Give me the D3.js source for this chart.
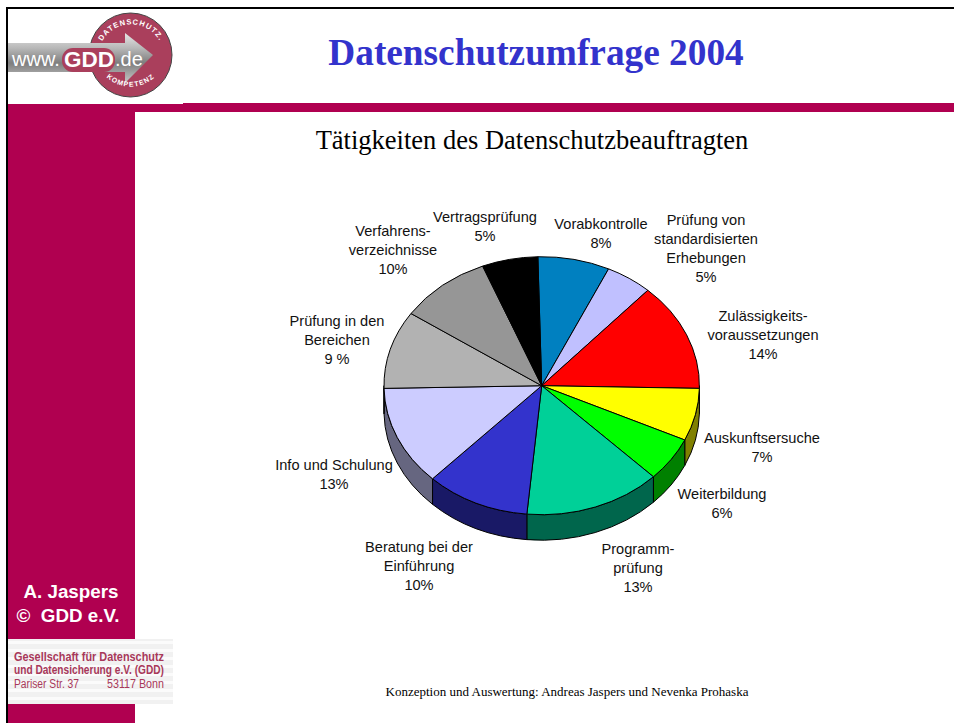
<!DOCTYPE html>
<html><head><meta charset="utf-8">
<script src="https://cdn.jsdelivr.net/npm/d3@7/dist/d3.min.js"></script>
<style>html,body{margin:0;padding:0;background:#fff}svg{display:block}</style>
</head><body><svg id="c" width="954" height="723"></svg>
<script>
const categories=["Vorabkontrolle","Prüfung von standardisierten Erhebungen","Zulässigkeits-voraussetzungen","Auskunftsersuche","Weiterbildung","Programm-prüfung","Beratung bei der Einführung","Info und Schulung","Prüfung in den Bereichen","Verfahrens-verzeichnisse","Vertragsprüfung"];
const shares=[7.36,4.78,13.58,6.58,5.56,14.03,10.67,12.5,9.78,9.44,5.72];
const labelLines=[["Vorabkontrolle","8%"],["Prüfung von","standardisierten","Erhebungen","5%"],["Zulässigkeits-","voraussetzungen","14%"],["Auskunftsersuche","7%"],["Weiterbildung","6%"],["Programm-","prüfung","13%"],["Beratung bei der","Einführung","10%"],["Info und Schulung","13%"],["Prüfung in den","Bereichen","9 %"],["Verfahrens-","verzeichnisse","10%"],["Vertragsprüfung","5%"]];
const labelX=[601,706,763,762,722,638,419,334,337,393,485];
const labelY=[229,225,321,443,499,554,552,470,326,236,222];
const topColors=["#0080c0","#c0c0ff","#ff0000","#ffff00","#00ff00","#00d098","#3333cc","#ccccff","#b2b2b2","#969696","#000000"];
const sideColors=["#004060","#606080","#800000","#808000","#008000","#00664c","#191966","#666680","#595959","#4b4b4b","#000000"];

const svg=d3.select("#c");
const cx=541.7,cy=385.7,rx=157.7,ry=129,depth=25.5;
const maroon="#b00050";
const rect=(x,y,w,h,f)=>svg.append("rect").attr("x",x).attr("y",y).attr("width",w).attr("height",h).attr("fill",f);
const text=(s,x,y,size,fam,fill,anchor="middle",weight="normal")=>svg.append("text").text(s).attr("x",x).attr("y",y).attr("font-size",size).attr("font-family",fam).attr("fill",fill).attr("text-anchor",anchor).attr("font-weight",weight);

// slide frame
rect(8,104,127,619,maroon);
rect(135,104,48,8,maroon);
rect(183,103,771,9,maroon);
rect(6,7,948,2,"#000");
rect(6,7,2,716,"#000");

// logo
const defs=svg.append("defs");
const g1=defs.append("linearGradient").attr("id","arrow").attr("x1",0).attr("x2",0).attr("y1",0).attr("y2",1);
[[0,"#e6e6e6"],[.3,"#b8b8b8"],[.6,"#7e7e7e"],[1,"#c8c8c8"]].forEach(d=>g1.append("stop").attr("offset",d[0]).attr("stop-color",d[1]));
svg.append("ellipse").attr("cx",130.5).attr("cy",55).attr("rx",41.5).attr("ry",42).attr("fill","#aa3f5c").attr("stroke","#444").attr("stroke-width",1);
svg.append("path").attr("d","M8 43H125V33L153 55L125 83V72H8Z").attr("fill","url(#arrow)");
svg.append("rect").attr("x",62).attr("y",48).attr("width",53).attr("height",24).attr("rx",11).attr("fill","#aa3f5c");
text("www.",12,66,20,"Liberation Sans","#fff","start");
text("GDD",89,67,22,"Liberation Sans","#fff","middle","bold").attr("textLength",50).attr("lengthAdjust","spacingAndGlyphs");
text(".de",115,66,20,"Liberation Sans","#fff","start");
const curved=(id,d,s,size)=>{defs.append("path").attr("id",id).attr("d",d);
 svg.append("text").attr("font-family","Liberation Sans").attr("font-weight","bold").attr("font-size",size).attr("fill","#fff").attr("letter-spacing",1).append("textPath").attr("href","#"+id).attr("startOffset","50%").attr("text-anchor","middle").text(s);};
curved("la","M100 46A33 33 0 0 1 162 46","DATENSCHUTZ.",7.5);
curved("lb","M105 76A36 36 0 0 0 156 76","KOMPETENZ",7);

// headings
text("Datenschutzumfrage 2004",536,65,37.3,"Liberation Serif","#3333cc","middle","bold");
text("Tätigkeiten des Datenschutzbeauftragten",532,149,26.5,"Liberation Serif","#000");
text("A. Jaspers",71,598,18.8,"Liberation Sans","#fff","middle","bold");
text("©  GDD e.V.",68,622,18.8,"Liberation Sans","#fff","middle","bold").style("white-space","pre");
text("Konzeption und Auswertung: Andreas Jaspers und Nevenka Prohaska",567,696,13,"Liberation Serif","#000");

// address plate
rect(8,639,165,65,"#f1f1f1");
d3.range(0,8).forEach(i=>rect(8,641+i*8,165,3,"#fbfbfb"));
const addr=(s,x,y,w,weight,a="start")=>text(s,x,y,12.5,"Liberation Sans","#a8385a",a,weight).attr("textLength",w).attr("lengthAdjust","spacingAndGlyphs");
addr("Gesellschaft für Datenschutz",14,661,150,"bold");
addr("und Datensicherung e.V. (GDD)",14,674,150,"bold");
addr("Pariser Str. 37",14,688,65,"normal");
addr("53117 Bonn",107,688,57,"normal");

// pie
const startAngle=-1.4*Math.PI/180;
const pieData=d3.pie().sort(null).startAngle(startAngle).endAngle(startAngle+2*Math.PI)(shares);
const pt=(a,dy=0)=>[cx+rx*Math.sin(a),cy-ry*Math.cos(a)+dy];
const g=svg.append("g");
// side walls (front half only)
pieData.forEach((d,i)=>{
  const a0=Math.max(d.startAngle,Math.PI/2),a1=Math.min(d.endAngle,3*Math.PI/2);
  if(a1<=a0) return;
  const s=pt(a0),e=pt(a1),e2=pt(a1,depth),s2=pt(a0,depth);
  const st=`M${s}A${rx},${ry} 0 0 1 ${e}L${e2}A${rx},${ry} 0 0 0 ${s2}Z`;
  g.append("path").attr("d",st).attr("fill",sideColors[i]).attr("stroke","#000").attr("stroke-width",1);
});
// top face
const arc=d3.arc().innerRadius(0).outerRadius(rx);
const face=g.append("g").attr("transform",`translate(${cx},${cy}) scale(1,${ry/rx})`);
face.selectAll("path").data(pieData).join("path").attr("d",arc)
  .attr("fill",(d,i)=>topColors[i]).attr("stroke","#000").attr("stroke-width",1).attr("vector-effect","non-scaling-stroke");

// labels
labelLines.forEach((lines,i)=>{
  lines.forEach((l,j)=>text(l,labelX[i],labelY[i]+j*19,14.6,"Liberation Sans","#111"));
});
</script></body></html>
